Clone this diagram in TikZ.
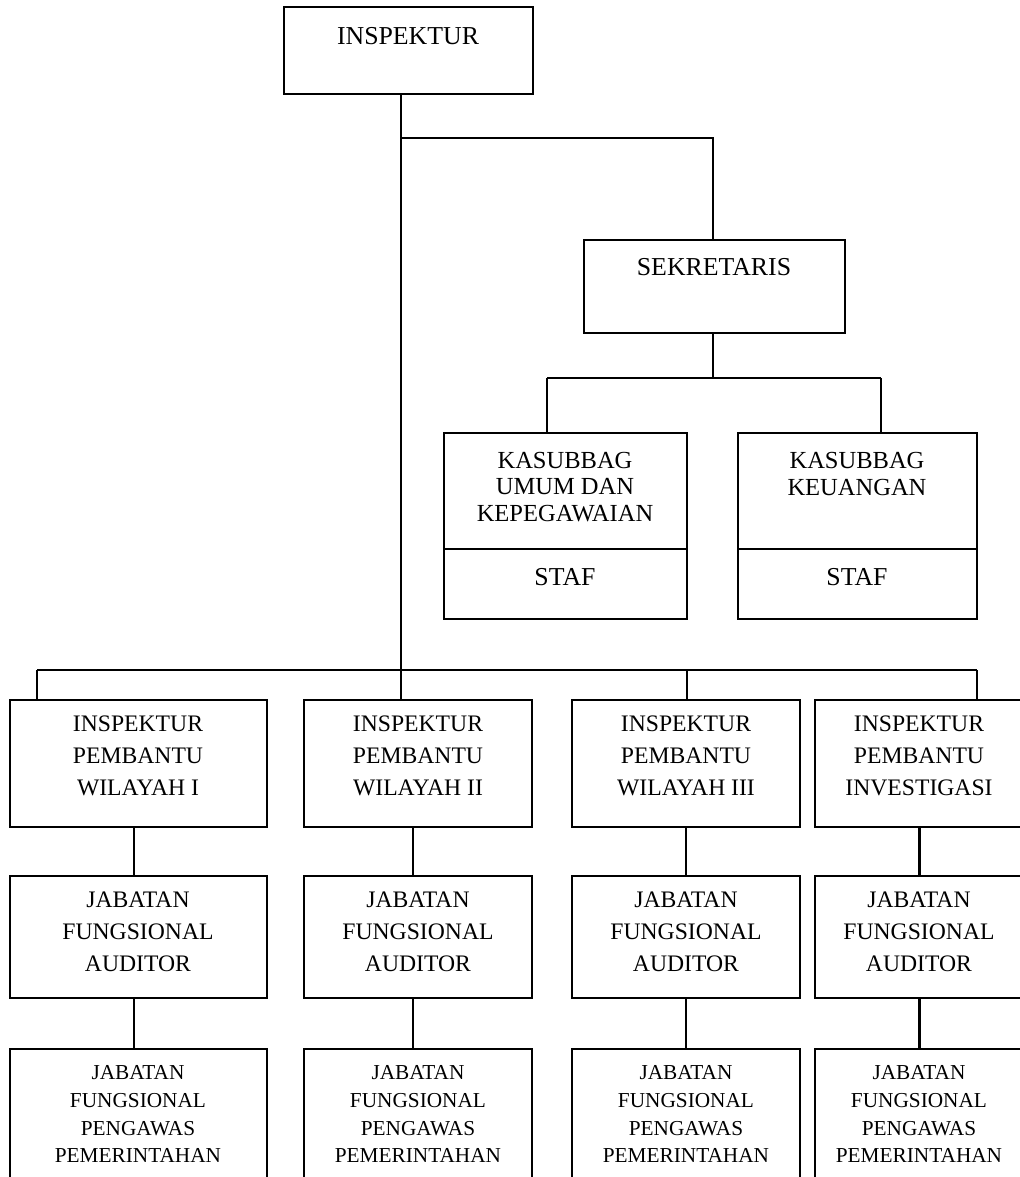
\documentclass[tikz,border=0pt]{standalone}
\usepackage{fontspec}
\setmainfont{Liberation Serif}
\usetikzlibrary{fit}

\tikzset{
    box/.style={draw, rectangle, inner sep=0pt},
    txttop/.style={align=center, inner sep=0pt, font=\fontsize{12}{14.9}\selectfont},
    txt/.style={align=center, inner sep=0pt, font=\fontsize{11}{14.9}\selectfont},
    txtkas/.style={align=center, inner sep=0pt, font=\fontsize{11.4}{12.3}\selectfont},
    txtsmall/.style={align=center, inner sep=0pt, font=\fontsize{9.9}{13}\selectfont},
}

\begin{document}
\begin{tikzpicture}[x=0.465pt, y=-0.465pt, line width=0.95pt]
    \useasboundingbox (0,0) rectangle (1020,1177);

    % top level
    \node[box, fit={(284,7) (533,94)}] (insp) {};
    \node[txttop] (insptxt) at (408,36) {INSPEKTUR};

    \node[box, fit={(584,240) (845,333)}] (sek) {};
    \node[txttop] (sektxt) at (714,267) {SEKRETARIS};

    % kasubbag boxes with staf part
    \node[box, fit={(444,433) (687,619)}] (kas1) {};
    \draw[] (444,549) -- (687,549);
    \node[txtkas] (kas1txt) at (565,487) {KASUBBAG\\UMUM DAN\\KEPEGAWAIAN};
    \node[txttop] (staf1) at (565,577) {STAF};

    \node[box, fit={(738,433) (977,619)}] (kas2) {};
    \draw[] (738,549) -- (977,549);
    \node[txtkas] (kas2txt) at (857,474) {KASUBBAG\\KEUANGAN};
    \node[txttop] (staf2) at (857,577) {STAF};

    % inspektur pembantu row
    \node[box, fit={(10,700) (267,827)}] (ipw1) {};
    \node[txt] (ipw1txt) at (138,756) {INSPEKTUR\\PEMBANTU\\WILAYAH I};
    \node[box, fit={(304,700) (532,827)}] (ipw2) {};
    \node[txt] (ipw2txt) at (418,756) {INSPEKTUR\\PEMBANTU\\WILAYAH II};
    \node[box, fit={(572,700) (800,827)}] (ipw3) {};
    \node[txt] (ipw3txt) at (686,756) {INSPEKTUR\\PEMBANTU\\WILAYAH III};
    \node[box, fit={(815,700) (1024,827)}] (ipw4) {};
    \node[txt] (ipw4txt) at (919,756) {INSPEKTUR\\PEMBANTU\\INVESTIGASI};

    % jabatan fungsional auditor row
    \node[box, fit={(10,876) (267,998)}] (jfa1) {};
    \node[txt] (jfa1txt) at (138,932) {JABATAN\\FUNGSIONAL\\AUDITOR};
    \node[box, fit={(304,876) (532,998)}] (jfa2) {};
    \node[txt] (jfa2txt) at (418,932) {JABATAN\\FUNGSIONAL\\AUDITOR};
    \node[box, fit={(572,876) (800,998)}] (jfa3) {};
    \node[txt] (jfa3txt) at (686,932) {JABATAN\\FUNGSIONAL\\AUDITOR};
    \node[box, fit={(815,876) (1024,998)}] (jfa4) {};
    \node[txt] (jfa4txt) at (919,932) {JABATAN\\FUNGSIONAL\\AUDITOR};

    % jabatan fungsional pengawas row (runs off the page)
    \node[box, fit={(10,1049) (267,1200)}] (jfp1) {};
    \node[txtsmall] (jfp1txt) at (138,1114) {JABATAN\\FUNGSIONAL\\PENGAWAS\\PEMERINTAHAN};
    \node[box, fit={(304,1049) (532,1200)}] (jfp2) {};
    \node[txtsmall] (jfp2txt) at (418,1114) {JABATAN\\FUNGSIONAL\\PENGAWAS\\PEMERINTAHAN};
    \node[box, fit={(572,1049) (800,1200)}] (jfp3) {};
    \node[txtsmall] (jfp3txt) at (686,1114) {JABATAN\\FUNGSIONAL\\PENGAWAS\\PEMERINTAHAN};
    \node[box, fit={(815,1049) (1024,1200)}] (jfp4) {};
    \node[txtsmall] (jfp4txt) at (919,1114) {JABATAN\\FUNGSIONAL\\PENGAWAS\\PEMERINTAHAN};

    % junctions
    \coordinate (j1) at (401,138);
    \coordinate (sekbar) at (713,378);
    \coordinate (kasL) at (547,378);
    \coordinate (kasR) at (881,378);
    \coordinate (busL) at (37,670);
    \coordinate (bus3) at (687,670);
    \coordinate (busR) at (977,670);
    \coordinate (col1) at (134,0);
    \coordinate (col2) at (413,0);

    % connectors
    \draw[] (insp.south -| j1) -- (j1 |- ipw2.north);
    \draw[] (j1) -| (sekbar |- sek.north);
    \draw[] (sek.south -| sekbar) -- (sekbar);
    \draw[] (kasL) -- (kasR);
    \draw[] (kasL) -- (kasL |- kas1.north);
    \draw[] (kasR) -- (kasR |- kas2.north);

    \draw[] (busL) -- (busR);
    \draw[] (busL) -- (busL |- ipw1.north);
    \draw[] (bus3) -- (bus3 |- ipw3.north);
    \draw[] (busR) -- (busR |- ipw4.north);

    \draw[] (ipw1.south -| col1) -- (jfa1.north -| col1);
    \draw[] (ipw2.south -| col2) -- (jfa2.north -| col2);
    \draw[] (ipw3.south) -- (jfa3.north);
    \draw[] (ipw4.south) -- (jfa4.north);

    \draw[] (jfa1.south -| col1) -- (jfp1.north -| col1);
    \draw[] (jfa2.south -| col2) -- (jfp2.north -| col2);
    \draw[] (jfa3.south) -- (jfp3.north);
    \draw[] (jfa4.south) -- (jfp4.north);
\end{tikzpicture}
\end{document}
